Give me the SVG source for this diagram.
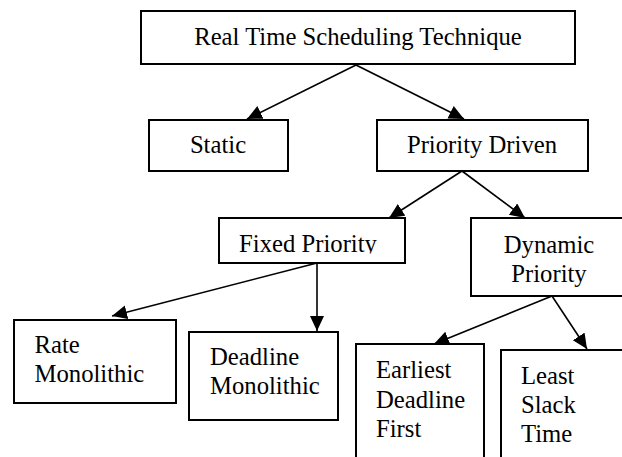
<svg xmlns="http://www.w3.org/2000/svg" width="622" height="457" viewBox="0 0 622 457">
<style>
.box{fill:#fff;stroke:#000;stroke-width:2}
.t{font-family:'Liberation Serif','Times New Roman',serif;font-size:24.7px;fill:#000}
.c{text-anchor:middle}
.e{stroke:#000;stroke-width:1.6;fill:none;marker-end:url(#ah)}
</style>
<defs>
<marker id="ah" markerUnits="userSpaceOnUse" markerWidth="17" markerHeight="15" refX="15" refY="7" orient="auto">
<path d="M0,0 L15,7 L0,14 Z" fill="#000"/>
</marker>
<clipPath id="fpclip"><rect x="219" y="218" width="186" height="35.5"/></clipPath>
</defs>
<rect width="622" height="457" fill="#fff"/>
<g id="edges">
<line class="e" x1="356" y1="65" x2="247" y2="119"/>
<line class="e" x1="356" y1="65" x2="464" y2="119"/>
<line class="e" x1="462" y1="171" x2="389" y2="218"/>
<line class="e" x1="462" y1="171" x2="525" y2="218"/>
<line class="e" x1="317" y1="263" x2="317" y2="331"/>
<line class="e" x1="317" y1="263" x2="112" y2="316"/>
<line class="e" x1="552" y1="296" x2="434" y2="344"/>
<line class="e" x1="552" y1="296" x2="587" y2="349"/>
</g>
<g id="root">
<rect class="box" x="141" y="11" width="434" height="53"/>
<text class="t c" x="358" y="45">Real Time Scheduling Technique</text>
</g>
<g id="static">
<rect class="box" x="149" y="120" width="139" height="51"/>
<text class="t c" x="218" y="153">Static</text>
</g>
<g id="priority-driven">
<rect class="box" x="377" y="120" width="211" height="51"/>
<text class="t c" x="482" y="153">Priority Driven</text>
</g>
<g id="fixed-priority">
<rect class="box" x="219" y="218" width="186" height="45"/>
<text class="t c" x="308" y="251.5" clip-path="url(#fpclip)">Fixed Priority</text>
</g>
<g id="dynamic-priority">
<rect class="box" x="471" y="218" width="160" height="78"/>
<text class="t c" x="549" y="253">Dynamic</text>
<text class="t c" x="549" y="282">Priority</text>
</g>
<g id="rate-monolithic">
<rect class="box" x="14" y="320" width="162" height="83"/>
<text class="t" x="34.5" y="353">Rate</text>
<text class="t" x="34.5" y="382">Monolithic</text>
</g>
<g id="deadline-monolithic">
<rect class="box" x="189" y="332" width="149" height="88"/>
<text class="t" x="210" y="364.5">Deadline</text>
<text class="t" x="210" y="393.5">Monolithic</text>
</g>
<g id="edf">
<rect class="box" x="356" y="344" width="128" height="130"/>
<text class="t" x="376" y="378">Earliest</text>
<text class="t" x="376" y="408">Deadline</text>
<text class="t" x="376" y="436.5">First</text>
</g>
<g id="lst">
<rect class="box" x="501" y="350" width="130" height="130"/>
<text class="t" x="521" y="384">Least</text>
<text class="t" x="521" y="413">Slack</text>
<text class="t" x="521" y="442">Time</text>
</g>
</svg>
